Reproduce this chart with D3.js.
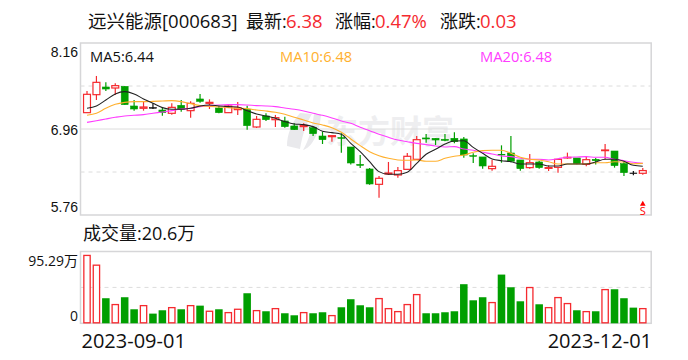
<!DOCTYPE html>
<html><head><meta charset="utf-8">
<script src="https://cdnjs.cloudflare.com/ajax/libs/d3/7.8.5/d3.min.js"></script>
<style>html,body{margin:0;padding:0;background:#fff}svg{display:block}text{font-family:"Open Sans","Noto Sans CJK SC",sans-serif}</style>
</head><body><svg id="c" width="688" height="360"></svg>
<script>
const dates=["09-01","09-04","09-05","09-06","09-07","09-08","09-11","09-12","09-13","09-14","09-15","09-18","09-19","09-20","09-21","09-22","09-25","09-26","09-27","09-28","10-09","10-10","10-11","10-12","10-13","10-16","10-17","10-18","10-19","10-20","10-23","10-24","10-25","10-26","10-27","10-30","10-31","11-01","11-02","11-03","11-06","11-07","11-08","11-09","11-10","11-13","11-14","11-15","11-16","11-17","11-20","11-21","11-22","11-23","11-24","11-27","11-28","11-29","11-30","12-01"].map(d=>"2023-"+d);
const open=[7.188,7.439,7.546,7.532,7.555,7.281,7.249,7.258,7.225,7.179,7.290,7.216,7.379,7.318,7.253,7.188,7.230,7.235,6.988,7.142,7.090,7.072,7.002,6.993,6.979,6.862,6.853,6.839,6.709,6.467,6.402,6.188,6.332,6.318,6.397,6.537,6.835,6.830,6.816,6.830,6.821,6.588,6.570,6.407,6.607,6.625,6.528,6.421,6.500,6.411,6.425,6.556,6.556,6.467,6.537,6.658,6.653,6.476,6.346,6.342];
const close=[7.444,7.611,7.518,7.565,7.300,7.239,7.267,7.258,7.188,7.262,7.235,7.318,7.346,7.332,7.188,7.281,7.253,7.007,7.095,7.090,7.118,6.993,6.951,7.011,6.895,6.811,6.867,6.830,6.486,6.453,6.193,6.272,6.346,6.379,6.579,6.811,6.821,6.807,6.802,6.783,6.597,6.579,6.444,6.439,6.597,6.509,6.407,6.490,6.421,6.421,6.537,6.565,6.476,6.532,6.518,6.667,6.449,6.351,6.346,6.380];
const high=[7.490,7.700,7.611,7.597,7.555,7.365,7.337,7.318,7.258,7.318,7.365,7.346,7.449,7.374,7.286,7.304,7.337,7.286,7.142,7.179,7.156,7.132,7.039,7.039,6.993,6.923,6.876,6.900,6.709,6.597,6.416,6.304,6.500,6.430,6.625,6.862,6.890,6.830,6.890,6.914,6.849,6.621,6.570,6.528,6.732,6.862,6.528,6.611,6.518,6.453,6.537,6.630,6.556,6.579,6.556,6.751,6.653,6.504,6.374,6.416];
const low=[7.188,7.365,7.490,7.435,7.300,7.216,7.216,7.239,7.146,7.160,7.202,7.118,7.328,7.239,7.179,7.188,7.155,6.951,6.974,7.072,6.988,6.979,6.946,6.932,6.862,6.751,6.783,6.630,6.463,6.416,6.183,6.002,6.318,6.281,6.388,6.528,6.769,6.737,6.788,6.760,6.560,6.486,6.407,6.379,6.490,6.495,6.379,6.407,6.407,6.374,6.351,6.546,6.467,6.439,6.463,6.537,6.421,6.304,6.314,6.323];
const ma5=[7.249,7.281,7.365,7.449,7.481,7.449,7.379,7.318,7.258,7.235,7.235,7.249,7.281,7.295,7.281,7.272,7.267,7.216,7.169,7.142,7.109,7.063,7.030,7.021,6.993,6.928,6.909,6.886,6.760,6.644,6.504,6.365,6.328,6.328,6.356,6.481,6.607,6.676,6.751,6.793,6.797,6.704,6.621,6.542,6.518,6.504,6.472,6.472,6.472,6.444,6.444,6.472,6.472,6.472,6.500,6.537,6.537,6.509,6.453,6.440];
const ma10=[7.151,7.179,7.249,7.304,7.332,7.342,7.342,7.346,7.351,7.356,7.342,7.314,7.286,7.276,7.267,7.258,7.249,7.244,7.225,7.211,7.193,7.165,7.123,7.086,7.044,7.016,6.979,6.914,6.821,6.728,6.644,6.588,6.551,6.528,6.523,6.528,6.509,6.509,6.551,6.579,6.597,6.635,6.658,6.663,6.663,6.621,6.565,6.537,6.528,6.504,6.472,6.472,6.472,6.476,6.490,6.490,6.504,6.500,6.476,6.480];
const ma20=[7.053,7.076,7.100,7.123,7.142,7.151,7.160,7.179,7.197,7.216,7.239,7.249,7.272,7.286,7.295,7.300,7.300,7.295,7.286,7.281,7.272,7.253,7.235,7.211,7.179,7.151,7.114,7.072,7.039,6.983,6.937,6.886,6.844,6.807,6.783,6.760,6.742,6.723,6.709,6.714,6.681,6.663,6.635,6.611,6.583,6.574,6.551,6.537,6.537,6.528,6.546,6.565,6.570,6.574,6.565,6.565,6.537,6.518,6.495,6.480];
const volume=[95.29,81.6,35.2,26.3,36.6,19.7,24.8,13.6,18.3,22,19.7,24.8,24.8,16.9,19.7,15,19.7,42.2,17.8,16.9,20.6,14.1,11.25,15,14.1,15.5,10.8,22.5,33.8,25.3,22.5,34.7,20.6,16.4,26.3,40.3,14.1,14.1,15.5,16.9,54.9,32.3,36.6,29.1,68.4,50.6,30.9,50.2,26.7,22,36.1,27.7,18.3,16.4,16.9,47.3,47.8,35.2,22,20.6];
const priceTicks=[8.16,6.96,5.76], volumeTicks=[95.29,0], dateTicks=["2023-09-01","2023-12-01"];
const C={up:"#f52a2f",down:"#009f00",flat:"#111",frame:"#d6d6d8",grid:"#dcdcdc",text:"#111",ma5:"#222",ma10:"#ffb02e",ma20:"#ff3dff"};

const svg=d3.select("#c");
const L=80.5,R=651.2;
const x=d3.scaleBand().domain(dates).range([82.3,647.5]).paddingInner(.2).paddingOuter(.1);
const y=d3.scaleLinear().domain([5.76,8.16]).range([215,43]);
const yv=d3.scaleLinear().domain([0,100.8]).range([323.3,251.5]);
const cx=d=>x(d)+x.bandwidth()/2;
const T=(s,px,py,size,fill,anchor)=>svg.append("text").attr("x",px).attr("y",py).attr("font-size",size).attr("fill",fill||C.text).attr("text-anchor",anchor||"start").text(s);

// watermark
const wm=svg.append("g").attr("fill","#eeeef0");
wm.append("path").attr("fill","#e9e9ec").attr("d","M300 113 C292 122 287 134 287 146 L300 149 C302 136 306 124 312 114 Z");
wm.append("path").attr("fill","#e9e9ec").attr("d","M314 114 C312 128 309 140 303 150 C312 148 320 132 321 114 Z");
wm.append("text").attr("x",326).attr("y",143).attr("font-size",32).attr("font-weight",700).style("font-family","'Noto Sans CJK SC'").text("东方财富");

// frames and grid
[[43,215],[251.5,323.3]].forEach(([a,b])=>svg.append("rect").attr("x",L).attr("y",a).attr("width",R-L).attr("height",b-a).attr("fill","none").attr("stroke",C.frame).attr("stroke-width",1.5));
const gridLine=(yy,dash)=>svg.append("line").attr("x1",L).attr("x2",R).attr("y1",yy).attr("y2",yy).attr("stroke",C.grid).attr("stroke-width",1).attr("stroke-dasharray",dash?"4 4":null);
gridLine(y(7.56),true);gridLine(y(6.96),false);gridLine(y(6.36),true);gridLine(yv(50.4),true);

// candles
const rows=dates.map((d,i)=>({d,o:open[i],c:close[i],h:high[i],l:low[i],v:volume[i]}));
const col=r=>r.c>r.o?C.up:r.c<r.o?C.down:C.flat;
const cg=svg.append("g");
cg.selectAll("line").data(rows).join("line").attr("x1",r=>cx(r.d)).attr("x2",r=>cx(r.d)).attr("y1",r=>y(r.h)).attr("y2",r=>y(r.l)).attr("stroke",col).attr("stroke-width",1.2);
cg.selectAll("rect").data(rows).join("rect").attr("x",r=>x(r.d)+.3).attr("width",x.bandwidth()-.6)
 .attr("y",r=>y(Math.max(r.o,r.c))).attr("height",r=>Math.max(y(Math.min(r.o,r.c))-y(Math.max(r.o,r.c)),.6))
 .attr("fill",r=>r.c>r.o?"#fff":col(r)).attr("stroke",col).attr("stroke-width",r=>r.c>r.o?1.2:.6);

// moving averages
const line=d3.line().x((v,i)=>cx(dates[i])).y(v=>y(v)).curve(d3.curveMonotoneX);
[[ma20,C.ma20],[ma10,C.ma10],[ma5,C.ma5]].forEach(([s,c])=>svg.append("path").attr("d",line(s)).attr("fill","none").attr("stroke",c).attr("stroke-width",1.1));

// volume bars
svg.append("g").selectAll("rect").data(rows).join("rect")
 .attr("x",r=>x(r.d)+(r.c>r.o?.6:0)).attr("width",r=>x.bandwidth()-(r.c>r.o?1.2:0))
 .attr("y",r=>yv(r.v)).attr("height",r=>yv(0)-yv(r.v)-(r.c>r.o?.5:0))
 .attr("fill",r=>r.c>r.o?"#fff":C.down).attr("stroke",r=>r.c>r.o?C.up:"none").attr("stroke-width",1.3);

// axes
const axP=svg.append("g").attr("transform","translate(78,0)").call(d3.axisLeft(y).tickValues(priceTicks).tickSize(0).tickPadding(0).tickFormat(d3.format(".2f")));
axP.select(".domain").remove();
axP.selectAll("text").attr("font-size",14).attr("fill",C.text).style("font-family","inherit").attr("dy",d=>d===8.16?"13":d===5.76?"-4":"5");
const axV=svg.append("g").attr("transform","translate(78,0)").call(d3.axisLeft(yv).tickValues(volumeTicks).tickSize(0).tickPadding(0).tickFormat(d=>d?d+"万":"0"));
axV.select(".domain").remove();
axV.selectAll("text").attr("font-size",14).attr("fill",C.text).attr("dy",d=>d?"10":"-3");
const xt=d3.scalePoint().domain(dateTicks).range([81,651.5]);
const axD=svg.append("g").attr("transform","translate(0,348)").call(d3.axisBottom(xt).tickValues(dateTicks).tickSize(0).tickPadding(0));
axD.select(".domain").remove();
axD.selectAll("text").attr("font-size",20).attr("fill",C.text).attr("y",0).attr("dy",0).attr("text-anchor",(d,i)=>i?"end":"start");

// texts
T("远兴能源[000683]",88,28,18.5);
T("最新:",246,28,18);T("6.38",286,28,18.5,C.up);
T("涨幅:",335,28,18);T("0.47%",375,28,18.5,C.up);
T("涨跌:",440,28,18);T("0.03",480,28,18.5,C.up);
T("MA5:6.44",90,62,14.7,"#111");T("MA10:6.48",280,62,14.7,C.ma10);T("MA20:6.48",480,62,14.7,C.ma20);
T("成交量:20.6万",83,240,18);

// sell marker
const mk=svg.append("g").attr("fill","#f00");
mk.append("path").attr("d",d3.symbol(d3.symbolTriangle,14)()).attr("transform",`translate(${cx(dates[59])},204)`);
mk.append("text").attr("x",cx(dates[59])).attr("y",215).attr("font-size",11).attr("text-anchor","middle").text("S");
</script></body></html>
